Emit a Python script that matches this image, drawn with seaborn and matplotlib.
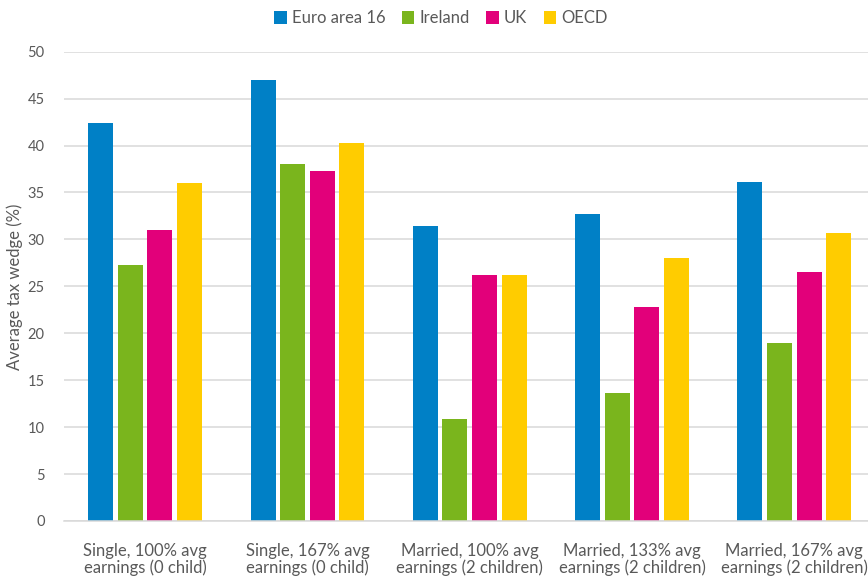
import matplotlib
matplotlib.use("Agg")
import matplotlib.pyplot as plt
import seaborn as sns
import pandas as pd

categories = [
    "Single, 100% avg\nearnings (0 child)",
    "Single, 167% avg\nearnings (0 child)",
    "Married, 100% avg\nearnings (2 children)",
    "Married, 133% avg\nearnings (2 children)",
    "Married, 167% avg\nearnings (2 children)",
]
series = ["Euro area 16", "Ireland", "UK", "OECD"]
euro_area = [42.4, 47.0, 31.4, 32.7, 36.1]
ireland = [27.3, 38.0, 10.9, 13.6, 19.0]
uk = [31.0, 37.3, 26.2, 22.8, 26.5]
oecd = [36.0, 40.3, 26.2, 28.0, 30.7]
colors = ["#0080C6", "#7AB51D", "#E2007A", "#FFCC00"]

rows = []
for name, vals in zip(series, [euro_area, ireland, uk, oecd]):
    for c, v in zip(categories, vals):
        rows.append({"category": c, "series": name, "value": v})
df = pd.DataFrame(rows)

sns.set_theme(style="white")
plt.rcParams["font.family"] = ["Lato", "DejaVu Sans"]

fig = plt.figure(figsize=(8.68, 5.76), dpi=100)
ax = fig.add_axes([64 / 868, 55 / 576, 811.5 / 868, 469.3 / 576])

sns.barplot(data=df, x="category", y="value", hue="series", order=categories,
            hue_order=series, palette=colors, saturation=1, width=0.73, gap=0.155,
            ax=ax, legend=True, linewidth=0)

ax.set_ylim(0, 50)
ax.set_xlim(-0.5, 4.5)
ax.set_yticks(range(0, 51, 5))
ax.yaxis.grid(True, color="#D9D9D9", linewidth=1.1)
ax.set_axisbelow(True)
for s in ["top", "right", "left"]:
    ax.spines[s].set_visible(False)
ax.spines["bottom"].set_color("#D9D9D9")
ax.spines["bottom"].set_linewidth(1.1)
ax.tick_params(axis="y", length=0, pad=14, labelsize=10.5, labelcolor="#595959")
ax.tick_params(axis="x", length=0, pad=16, labelsize=12, labelcolor="#595959")
for t in ax.get_xticklabels():
    t.set_linespacing(1.05)
ax.set_xlabel("")
ax.set_ylabel("Average tax wedge (%)", fontsize=12, color="#595959", labelpad=3)

handles, labels = ax.get_legend_handles_labels()
ax.get_legend().remove()
fig.legend(handles, labels, loc="upper center", bbox_to_anchor=(0.508, 1.008),
           ncol=4, frameon=False, fontsize=12, handlelength=0.75, handleheight=0.75,
           handletextpad=0.3, columnspacing=1.0, labelcolor="#595959")

fig.savefig("out.png", dpi=100)
